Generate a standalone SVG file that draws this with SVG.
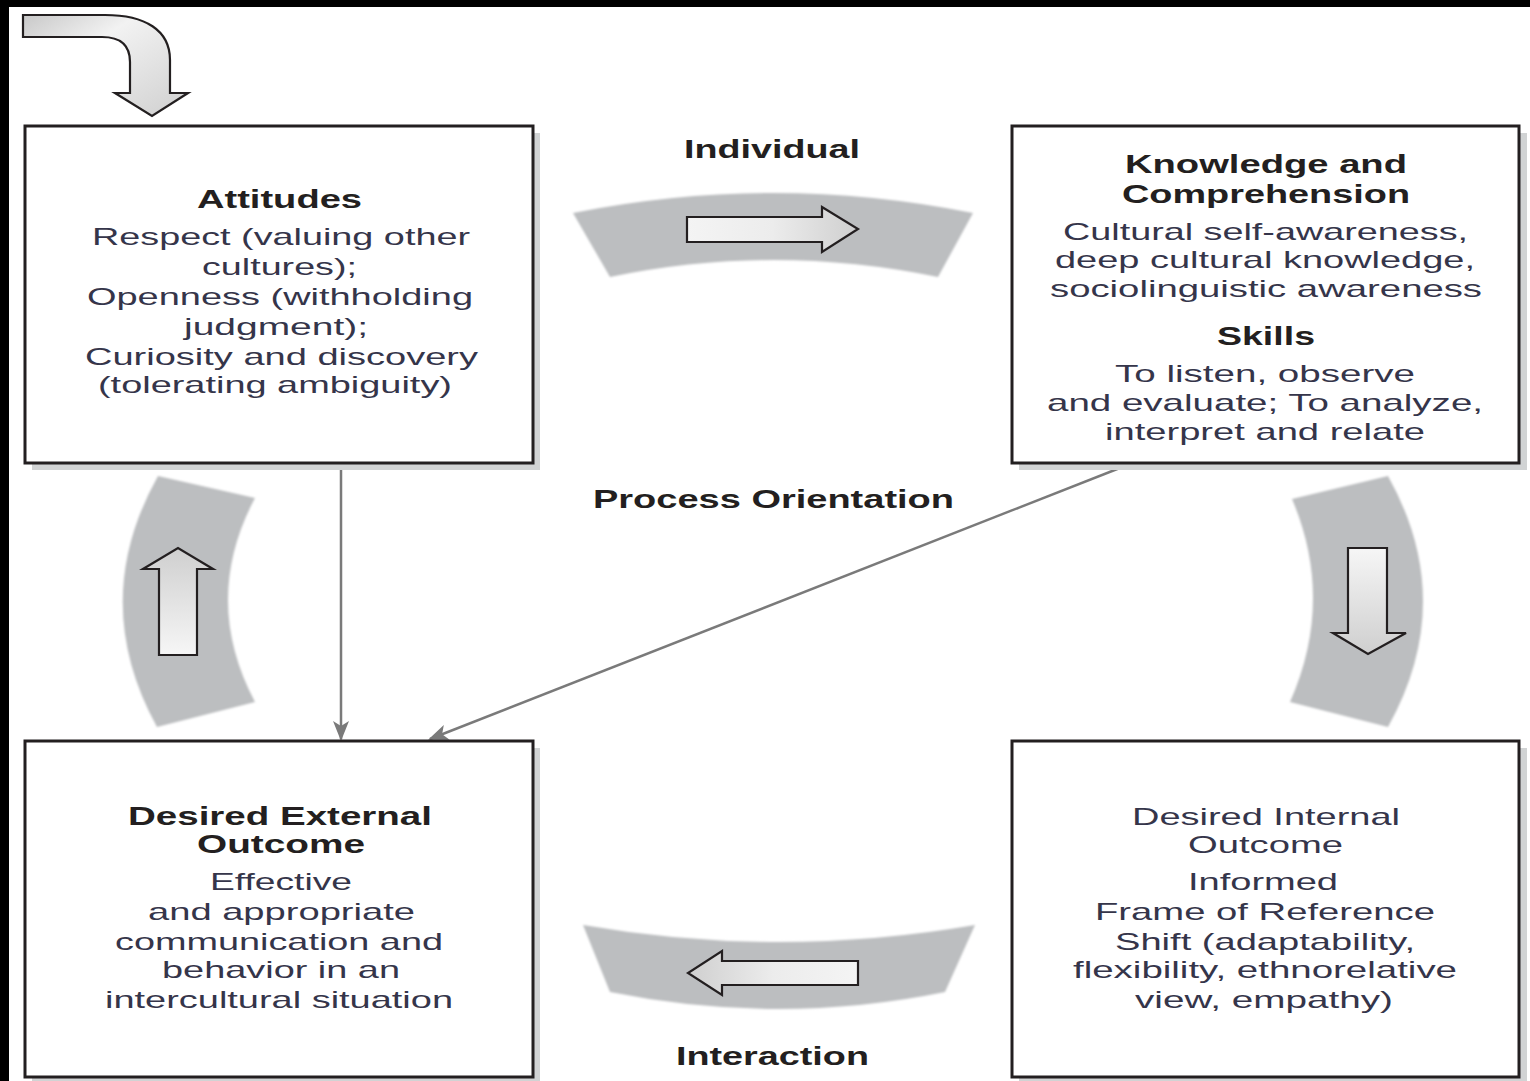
<svg xmlns="http://www.w3.org/2000/svg" width="1530" height="1081" viewBox="0 0 1530 1081">
<defs>
<style>
.box{fill:#ffffff;stroke:#231f20;stroke-width:3}
.shadow{fill:#d1d3d4}
.band{fill:#bcbec0;filter:url(#soft)}
.arr{stroke:#231f20;stroke-width:2.2;stroke-linejoin:miter}
.h{font-family:"Liberation Sans",Arial,sans-serif;font-weight:bold;font-size:25px;fill:#231f20}
.b{font-family:"Liberation Sans",Arial,sans-serif;font-size:24px;fill:#35354a}
.lbl{font-family:"Liberation Sans",Arial,sans-serif;font-weight:bold;font-size:26px;fill:#231f20}
.conn{stroke:#7a7a7a;stroke-width:2.5;fill:none}
</style>
<filter id="soft" x="-5%" y="-5%" width="110%" height="110%"><feGaussianBlur stdDeviation="0.8"/></filter>
<linearGradient id="gH" x1="0" y1="0" x2="1" y2="0"><stop offset="0" stop-color="#f4f4f4"/><stop offset="0.5" stop-color="#ececec"/><stop offset="1" stop-color="#cfcfcf"/></linearGradient>
<linearGradient id="gHr" x1="1" y1="0" x2="0" y2="0"><stop offset="0" stop-color="#f4f4f4"/><stop offset="0.5" stop-color="#ececec"/><stop offset="1" stop-color="#cfcfcf"/></linearGradient>
<linearGradient id="gUp" x1="0" y1="1" x2="0" y2="0"><stop offset="0" stop-color="#f6f6f6"/><stop offset="1" stop-color="#cfcfcf"/></linearGradient>
<linearGradient id="gDn" x1="0" y1="0" x2="0" y2="1"><stop offset="0" stop-color="#f6f6f6"/><stop offset="1" stop-color="#cfcfcf"/></linearGradient>
<linearGradient id="gCurve" x1="0" y1="0" x2="1" y2="1"><stop offset="0" stop-color="#c8c8c8"/><stop offset="0.35" stop-color="#f2f2f2"/><stop offset="1" stop-color="#cfcfcf"/></linearGradient>
<marker id="ah" viewBox="0 0 20 16" refX="18" refY="8" markerWidth="20" markerHeight="16" markerUnits="userSpaceOnUse" orient="auto"><path d="M0 0 L20 8 L0 16 L5 8 Z" fill="#7a7a7a"/></marker>
</defs>
<rect x="0" y="0" width="1530" height="1081" fill="#ffffff"/>
<rect x="0" y="0" width="1530" height="7" fill="#000000"/>
<rect x="0" y="0" width="9" height="1081" fill="#000000"/>

<g id="start-arrow">
<path class="arr" fill="url(#gCurve)" d="M23 15 L105 15 C145 15 170 30 170 60 L170 93 L188 93 L152 116 L115 93 L130 93 L130 62 C130 45 120 37 102 37 L23 37 Z"/>
</g>

<g id="bands">
<path class="band" d="M573 213 Q773 173 973 213 L938 277 Q773 243 610 277 Z"/>
<path class="band" d="M1292 499 L1388 476 Q1458 601 1388 727 L1290 702 Q1335 600 1292 499 Z"/>
<path class="band" d="M583 925 Q778 959 975 925 L945 992 Q778 1026 610 992 Z"/>
<path class="band" d="M158 476 L255 498 Q201 600 255 702 L157 727 Q88 601 158 476 Z"/>
<path class="arr" fill="url(#gH)" d="M687 217 L822 217 L822 207 L858 229 L822 252 L822 242 L687 242 Z"/>
<path class="arr" fill="url(#gDn)" d="M1348 548 L1387 548 L1387 633 L1406 633 L1368 654 L1333 633 L1348 633 Z"/>
<path class="arr" fill="url(#gHr)" d="M858 961 L722 961 L722 951 L688 973 L722 995 L722 985 L858 985 Z"/>
<path class="arr" fill="url(#gUp)" d="M159 655 L197 655 L197 569 L213 569 L178 548 L143 569 L159 569 Z"/>
</g>

<g id="labels">
<text class="lbl" x="684" y="158" textLength="176" lengthAdjust="spacingAndGlyphs">Individual</text>
<text class="lbl" x="593" y="508" textLength="361" lengthAdjust="spacingAndGlyphs">Process Orientation</text>
<text class="lbl" x="676" y="1065" textLength="193" lengthAdjust="spacingAndGlyphs">Interaction</text>
</g>

<g id="connectors">
<line class="conn" x1="341" y1="464" x2="341" y2="739" marker-end="url(#ah)"/>
<line class="conn" x1="1130" y1="464" x2="430" y2="739" marker-end="url(#ah)"/>
</g>

<g id="attitudes">
<rect class="shadow" x="32" y="133" width="508" height="337"/>
<rect class="box" x="25" y="126" width="508" height="337"/>
<text class="h" x="197" y="208" textLength="165" lengthAdjust="spacingAndGlyphs">Attitudes</text>
<text class="b" x="92" y="245" textLength="378" lengthAdjust="spacingAndGlyphs">Respect (valuing other</text>
<text class="b" x="202" y="275" textLength="155" lengthAdjust="spacingAndGlyphs">cultures);</text>
<text class="b" x="87" y="305" textLength="386" lengthAdjust="spacingAndGlyphs">Openness (withholding</text>
<text class="b" x="184" y="335" textLength="184" lengthAdjust="spacingAndGlyphs">judgment);</text>
<text class="b" x="85" y="365" textLength="393" lengthAdjust="spacingAndGlyphs">Curiosity and discovery</text>
<text class="b" x="98" y="393" textLength="354" lengthAdjust="spacingAndGlyphs">(tolerating ambiguity)</text>
</g>

<g id="knowledge">
<rect class="shadow" x="1019" y="133" width="508" height="337"/>
<rect class="box" x="1012" y="126" width="507" height="337"/>
<text class="h" x="1125" y="173" textLength="282" lengthAdjust="spacingAndGlyphs">Knowledge and</text>
<text class="h" x="1122" y="203" textLength="288" lengthAdjust="spacingAndGlyphs">Comprehension</text>
<text class="b" x="1063" y="240" textLength="405" lengthAdjust="spacingAndGlyphs">Cultural self-awareness,</text>
<text class="b" x="1055" y="268" textLength="420" lengthAdjust="spacingAndGlyphs">deep cultural knowledge,</text>
<text class="b" x="1050" y="297" textLength="432" lengthAdjust="spacingAndGlyphs">sociolinguistic awareness</text>
<text class="h" x="1217" y="345" textLength="98" lengthAdjust="spacingAndGlyphs">Skills</text>
<text class="b" x="1115" y="382" textLength="300" lengthAdjust="spacingAndGlyphs">To listen, observe</text>
<text class="b" x="1047" y="411" textLength="436" lengthAdjust="spacingAndGlyphs">and evaluate; To analyze,</text>
<text class="b" x="1105" y="440" textLength="320" lengthAdjust="spacingAndGlyphs">interpret and relate</text>
</g>

<g id="external-outcome">
<rect class="shadow" x="32" y="748" width="508" height="336"/>
<rect class="box" x="25" y="741" width="508" height="336"/>
<text class="h" x="128" y="825" textLength="304" lengthAdjust="spacingAndGlyphs">Desired External</text>
<text class="h" x="197" y="853" textLength="168" lengthAdjust="spacingAndGlyphs">Outcome</text>
<text class="b" x="210" y="890" textLength="142" lengthAdjust="spacingAndGlyphs">Effective</text>
<text class="b" x="148" y="920" textLength="267" lengthAdjust="spacingAndGlyphs">and appropriate</text>
<text class="b" x="115" y="950" textLength="328" lengthAdjust="spacingAndGlyphs">communication and</text>
<text class="b" x="162" y="978" textLength="238" lengthAdjust="spacingAndGlyphs">behavior in an</text>
<text class="b" x="105" y="1008" textLength="348" lengthAdjust="spacingAndGlyphs">intercultural situation</text>
</g>

<g id="internal-outcome">
<rect class="shadow" x="1019" y="748" width="508" height="336"/>
<rect class="box" x="1012" y="741" width="507" height="336"/>
<text class="b" x="1132" y="825" textLength="268" lengthAdjust="spacingAndGlyphs">Desired Internal</text>
<text class="b" x="1188" y="853" textLength="155" lengthAdjust="spacingAndGlyphs">Outcome</text>
<text class="b" x="1188" y="890" textLength="150" lengthAdjust="spacingAndGlyphs">Informed</text>
<text class="b" x="1095" y="920" textLength="340" lengthAdjust="spacingAndGlyphs">Frame of Reference</text>
<text class="b" x="1115" y="950" textLength="300" lengthAdjust="spacingAndGlyphs">Shift (adaptability,</text>
<text class="b" x="1073" y="978" textLength="384" lengthAdjust="spacingAndGlyphs">flexibility, ethnorelative</text>
<text class="b" x="1135" y="1008" textLength="258" lengthAdjust="spacingAndGlyphs">view, empathy)</text>
</g>
</svg>
